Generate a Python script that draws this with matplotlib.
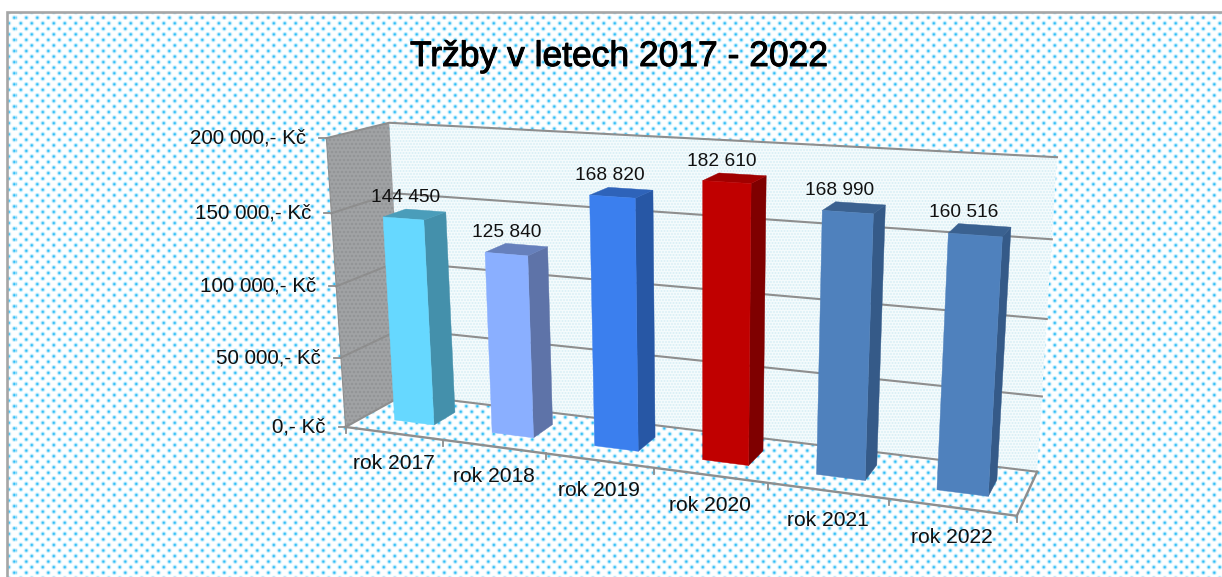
import numpy as np
import matplotlib
matplotlib.use("Agg")
import matplotlib.pyplot as plt
import matplotlib.patheffects as pe
from matplotlib.patches import Polygon, Rectangle

W, H = 1222, 577
title = "Tržby v letech 2017 - 2022"
categories = ["rok 2017", "rok 2018", "rok 2019", "rok 2020", "rok 2021", "rok 2022"]
values = [144450, 125840, 168820, 182610, 168990, 160516]
value_labels = ["144 450", "125 840", "168 820", "182 610", "168 990", "160 516"]
y_ticks = [0, 50000, 100000, 150000, 200000]
y_tick_labels = ["0,- Kč", "50 000,- Kč", "100 000,- Kč", "150 000,- Kč", "200 000,- Kč"]
front_colors = ["#66D8FF", "#8AAFFF", "#3B7FEE", "#C00000", "#4F81BD", "#4F81BD"]
side_colors = ["#4490AB", "#5E73A8", "#2757A5", "#7F0000", "#355A88", "#355A88"]
top_colors = ["#4A9DBA", "#6680BC", "#2E63B9", "#A00000", "#3A6190", "#3A6190"]
YMAX = 200000.0

# Camera calibration: (category position, value, depth) -> picture position
calib = [
    (0, 0, 0, 345, 427), (1, 0, 0, 443, 440), (2, 0, 0, 546, 454), (3, 0, 0, 654, 468),
    (4, 0, 0, 767, 483), (5, 0, 0, 889, 499), (6, 0, 0, 1017, 516),
    (0, 0, 1, 405, 395), (6, 0, 1, 1037, 471),
    (0, 200000, 1, 388, 123), (6, 200000, 1, 1057, 158),
    (6, 150000, 1, 1052, 239), (6, 100000, 1, 1047, 319), (6, 50000, 1, 1042, 396),
    (0, 200000, 0, 327, 138), (0, 150000, 0, 332, 213), (0, 100000, 0, 336, 286), (0, 50000, 0, 341, 357),
]
A, b = [], []
for u, val, w, x, y in calib:
    v = val / YMAX
    A.append([u, v, w, 1, 0, 0, 0, 0, -x*u, -x*v, -x*w]); b.append(x)
    A.append([0, 0, 0, 0, u, v, w, 1, -y*u, -y*v, -y*w]); b.append(y)
p = np.linalg.lstsq(np.array(A, float), np.array(b, float), rcond=None)[0]
P = np.append(p, 1.0).reshape(3, 4)

def proj(u, val, w):
    h = P @ np.array([u, val / YMAX, w, 1.0])
    return h[0] / h[2], h[1] / h[2]

yy, xx = np.mgrid[0:H, 0:W] + 0.5

def dots(sx, sy, radius, x0=0.0, y0=0.0):
    row = np.round((yy - y0) / sy)
    cx = (xx - x0 - (row % 2) * sx / 2) / sx
    dx = (cx - np.round(cx)) * sx
    dy = (yy - y0) - row * sy
    return np.exp(-(dx**2 + dy**2) / (2 * radius**2))

def texture(base, dot, amount):
    base = np.array(matplotlib.colors.to_rgb(base)); dot = np.array(matplotlib.colors.to_rgb(dot))
    return base[None, None, :] * (1 - amount[..., None]) + dot[None, None, :] * amount[..., None]

fig = plt.figure(figsize=(W / 100, H / 100), dpi=100, facecolor="white")
ax = fig.add_axes([0, 0, 1, 1])
ax.set_xlim(0, W); ax.set_ylim(H, 0); ax.axis("off")

# Chart area: dotted fill and frame
bg = texture("#FFFFFF", "#2FBDF5", np.clip(dots(11.0, 5.55, 1.15, -2.2, 1.05) * 1.05, 0, 1))
im = ax.imshow(bg, extent=(0, W, H, 0), zorder=0, interpolation="nearest", aspect="auto")
frame = Rectangle((6.5, 12), W, H, facecolor="none", edgecolor="none", transform=ax.transData)
ax.add_patch(frame); im.set_clip_path(frame)
ax.plot([6.5, 6.5, W], [H, 12, 12], color="#A6A6A6", lw=1.9, zorder=1, solid_joinstyle="miter")

def corners(*pts):
    return [proj(*q) for q in pts]

# Back wall and side wall
back = Polygon(corners((0, 0, 1), (6, 0, 1), (6, YMAX, 1), (0, YMAX, 1)), closed=True, fc="none", ec="none")
ax.add_patch(back)
imb = ax.imshow(texture("#F6FCFD", "#D4EDF4", np.clip(dots(3.0, 3.0, 0.7), 0, 1)), extent=(0, W, H, 0),
                zorder=1.5, interpolation="nearest", aspect="auto")
imb.set_clip_path(back)
side = Polygon(corners((0, 0, 0), (0, 0, 1), (0, YMAX, 1), (0, YMAX, 0)), closed=True, fc="none", ec="none")
ax.add_patch(side)
ims = ax.imshow(texture("#A2A4A6", "#8C8E90", np.clip(dots(4.0, 4.0, 0.8), 0, 1)), extent=(0, W, H, 0),
                zorder=1.6, interpolation="nearest", aspect="auto")
ims.set_clip_path(side)
ax.set_xlim(0, W); ax.set_ylim(H, 0)

GRID = "#8E8E8E"
# Gridlines on the walls
for t in y_ticks:
    pts = corners((0, t, 0), (0, t, 1), (6, t, 1))
    ax.plot(*zip(*pts), color=GRID, lw=1.5, zorder=2, solid_joinstyle="miter")
# Floor edges, value axis, ticks
ax.plot(*zip(*corners((0, 0, 0), (6, 0, 0), (6, 0, 1))), color=GRID, lw=1.7, zorder=2)
ax.plot(*zip(*corners((0, 0, 0), (0, YMAX, 0))), color=GRID, lw=0.8, zorder=2)
for u in range(7):
    x, y = proj(u, 0, 0)
    ax.plot([x, x], [y, y + 6], color=GRID, lw=1.3, zorder=2)
for t in y_ticks:
    x, y = proj(0, t, 0)
    ax.plot([x - 7, x], [y, y], color=GRID, lw=1.3, zorder=2)

# Bars
GAP, W0, W1, SHIFT = 0.295, 0.32, 0.70, 0.018
for i, val in enumerate(values):
    u0, u1 = i + GAP + SHIFT, i + 1 - GAP + SHIFT
    ax.add_patch(Polygon(corners((u1, 0, W0), (u1, 0, W1), (u1, val, W1), (u1, val, W0)), closed=True,
                         fc=side_colors[i], ec=side_colors[i], lw=0.3, zorder=3 + i * 0.01))
    ax.add_patch(Polygon(corners((u0, val, W0), (u1, val, W0), (u1, val, W1), (u0, val, W1)), closed=True,
                         fc=top_colors[i], ec=top_colors[i], lw=0.3, zorder=3 + i * 0.01))
    ax.add_patch(Polygon(corners((u0, 0, W0), (u1, 0, W0), (u1, val, W0), (u0, val, W0)), closed=True,
                         fc=front_colors[i], ec=front_colors[i], lw=0.3, zorder=3.005 + i * 0.01))
    x, y = proj(i + 0.5, val, (W0 + W1) / 2)
    ax.text(x - 7 - 1.3 * i, y - 17, value_labels[i], ha="center", va="center",
            fontsize=13.8, family="Liberation Sans", color="#111111", zorder=5)

# Category labels
for i, c in enumerate(categories):
    x, y = proj(i + 0.5, 0, 0)
    ax.text(x, y + 30, c, ha="center", va="center", fontsize=15.1, family="Liberation Sans",
            color="#111111", zorder=5)
# Value axis labels
for t, lab in zip(y_ticks, y_tick_labels):
    x, y = proj(0, t, 0)
    ax.text(x - 20, y, lab, ha="right", va="center", fontsize=14.9, family="Liberation Sans",
            color="#111111", zorder=5)

ax.text(619, 56.5, title, ha="center", va="center", fontsize=25.5, family="Liberation Sans", color="black", zorder=5,
        path_effects=[pe.withStroke(linewidth=0.7, foreground="black")])

fig.savefig("out.png", dpi=100)
